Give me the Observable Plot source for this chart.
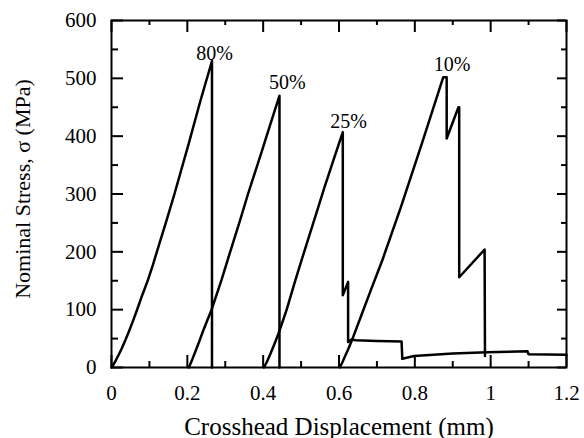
<!DOCTYPE html>
<html>
<head>
<meta charset="utf-8">
<script src="https://cdn.jsdelivr.net/npm/d3@7"></script>
<script src="https://cdn.jsdelivr.net/npm/@observablehq/plot@0.6"></script>
<style>
  html, body { margin: 0; padding: 0; background: #fff; }
</style>
</head>
<body>
<div id="chart"></div>
<script>
// Axis ticks and labels
const xTicks = [0, 0.2, 0.4, 0.6, 0.8, 1, 1.2];
const xTickLabels = ["0", "0.2", "0.4", "0.6", "0.8", "1", "1.2"];
const xMinor = [0.1, 0.3, 0.5, 0.7, 0.9, 1.1];
const yTicks = [0, 100, 200, 300, 400, 500, 600];
const yTickLabels = ["0", "100", "200", "300", "400", "500", "600"];
const yMinor = [50, 150, 250, 350, 450, 550];
const xTitle = "Crosshead Displacement (mm)";
const yTitle = "Nominal Stress, \u03c3 (MPa)";

// Series: [displacement (mm), stress (MPa)]
const curve80 = [[0,0],[0.006,6],[0.011,12],[0.019,22],[0.027,33],[0.037,48],[0.047,64],[0.057,81],[0.067,99],[0.081,125],[0.096,151],[0.109,177],[0.121,203],[0.145,254],[0.166,300],[0.204,388],[0.234,460],[0.265,530],[0.265,0]];
const curve50 = [[0.204,0],[0.213,14],[0.222,29],[0.232,46],[0.242,64],[0.253,82],[0.264,100],[0.290,151],[0.313,200],[0.337,250],[0.360,300],[0.397,375],[0.409,400],[0.443,470],[0.443,0]];
const curve25 = [[0.402,0],[0.410,10],[0.420,25],[0.430,41],[0.440,58],[0.450,77],[0.462,100],[0.485,151],[0.510,204],[0.536,258],[0.561,310],[0.586,360],[0.610,407],[0.610,125],[0.624,148],[0.624,44],[0.632,48],[0.645,47],[0.700,46],[0.765,45],[0.767,15],[0.798,20],[0.900,24],[0.990,26.5],[1.097,28],[1.100,23],[1.200,22]];
const curve10 = [[0.602,0],[0.609,9],[0.615,18],[0.624,31],[0.634,47],[0.660,92],[0.687,139],[0.714,185],[0.763,277],[0.820,390],[0.875,502],[0.884,502],[0.884,396],[0.915,450],[0.917,450],[0.917,156],[0.984,204],[0.985,20]];

// Peak labels
const peakText = ["80%", "50%", "25%", "10%"];
const peakX = [0.272, 0.464, 0.625, 0.898];
const peakY = [543, 493, 426, 524];
const peaks = peakText.map((t, i) => ({t, x: peakX[i], y: peakY[i]}));

const W = 584, H = 438, mL = 111, mR = 18, mT = 20, mB = 71;
const pw = W - mL - mR, ph = H - mT - mB;
const serif = "'Liberation Serif', 'Times New Roman', Times, serif";

const lineOpts = {x: d => d[0], y: d => d[1], stroke: "black", strokeWidth: 2.5, curve: "linear"};

const chart = Plot.plot({
  width: W, height: H,
  marginLeft: mL, marginRight: mR, marginTop: mT, marginBottom: mB,
  x: {domain: [0, 1.2]},
  y: {domain: [0, 600]},
  style: {fontFamily: serif, fontSize: "21px", background: "white", color: "black"},
  marks: [
    // tick labels
    Plot.axisX(xTicks, {anchor: "bottom", tickSize: 0, tickPadding: 18, tickFormat: d => xTickLabels[xTicks.indexOf(d)], fontSize: 21, label: null}),
    Plot.axisY(yTicks, {anchor: "left", tickSize: 0, tickPadding: 15, tickFormat: d => yTickLabels[yTicks.indexOf(d)], fontSize: 21, label: null}),
    // inward ticks: bottom / top
    Plot.ruleX(xTicks, {x: d => d, insetTop: ph - 12, stroke: "black", strokeWidth: 2}),
    Plot.ruleX(xMinor, {x: d => d, insetTop: ph - 6, stroke: "black", strokeWidth: 2}),
    Plot.ruleX(xTicks, {x: d => d, insetBottom: ph - 12, stroke: "black", strokeWidth: 2}),
    Plot.ruleX(xMinor, {x: d => d, insetBottom: ph - 5, stroke: "black", strokeWidth: 2}),
    // inward ticks: left / right
    Plot.ruleY(yTicks, {y: d => d, insetRight: pw - 12, stroke: "black", strokeWidth: 2}),
    Plot.ruleY(yMinor, {y: d => d, insetRight: pw - 7, stroke: "black", strokeWidth: 2}),
    Plot.ruleY(yTicks, {y: d => d, insetLeft: pw - 9, stroke: "black", strokeWidth: 2}),
    Plot.ruleY(yMinor, {y: d => d, insetLeft: pw - 5, stroke: "black", strokeWidth: 2}),
    // curves
    Plot.line(curve80, lineOpts),
    Plot.line(curve50, lineOpts),
    Plot.line(curve25, lineOpts),
    Plot.line(curve10, lineOpts),
    // peak labels
    Plot.text(peaks, {x: "x", y: "y", text: "t", fontSize: 20, fill: "black", textAnchor: "middle", lineAnchor: "middle"}),
    // frame
    Plot.frame({stroke: "black", strokeWidth: 2}),
    // axis titles
    Plot.text([xTitle], {frameAnchor: "bottom", dy: 59, text: d => d, fontSize: 25, fill: "black", textAnchor: "middle", lineAnchor: "middle"}),
    Plot.text([yTitle], {frameAnchor: "left", dx: -89, dy: -5, rotate: -90, text: d => d, fontSize: 22, fill: "black", textAnchor: "middle", lineAnchor: "middle"})
  ]
});
document.getElementById("chart").appendChild(chart);
</script>
</body>
</html>
